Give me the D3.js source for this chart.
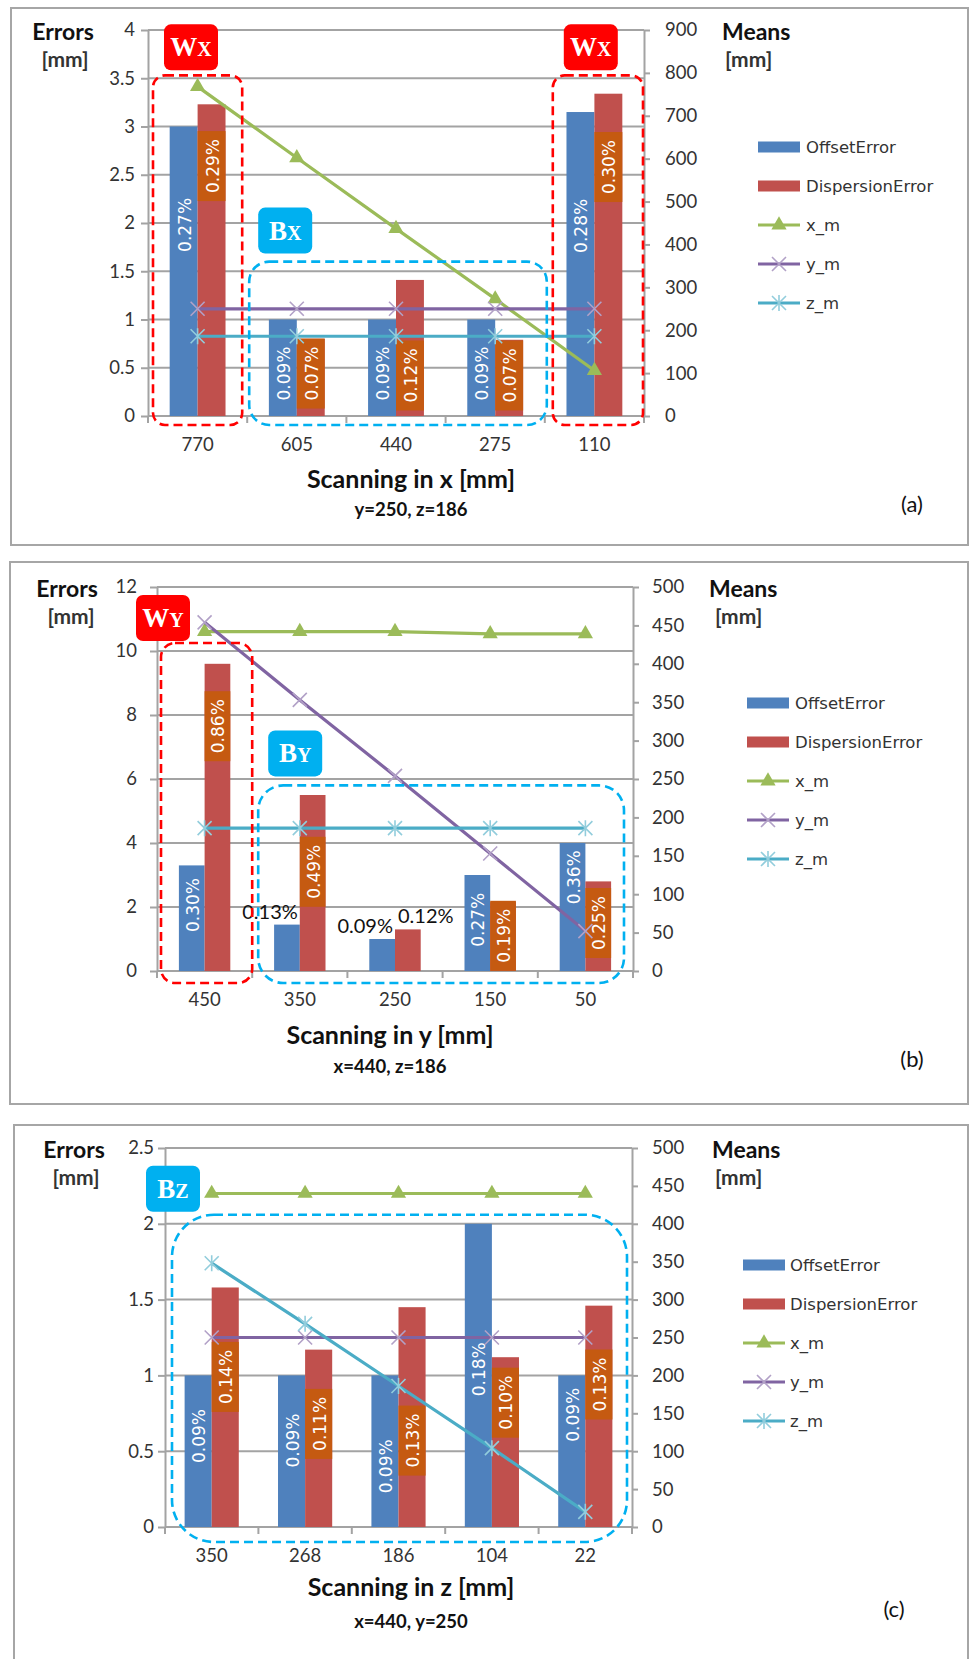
<!DOCTYPE html>
<html><head><meta charset="utf-8">
<script src="https://cdn.jsdelivr.net/npm/d3@7"></script>
<style>body{margin:0;background:#fff}svg{display:block}</style>
</head><body>
<svg id="chart" width="970" height="1659"></svg>
<script>
// ---- (a) scanning along x, y=250, z=186 ----
const catsA = ["770", "605", "440", "275", "110"];
const offsetA = [3.0, 1.0, 1.0, 1.0, 3.15];
const dispA = [3.23, 0.8, 1.41, 0.79, 3.34];
const offsetPctA = ["0.27%", "0.09%", "0.09%", "0.09%", "0.28%"];
const dispPctA = ["0.29%", "0.07%", "0.12%", "0.07%", "0.30%"];
const xmA = [768, 602, 437, 273, 106];
const ymA = [250, 250, 250, 250, 250];
const zmA = [186, 186, 186, 186, 186];
const errTicksA = [0, 0.5, 1, 1.5, 2, 2.5, 3, 3.5, 4];
const meanTicksA = [0, 100, 200, 300, 400, 500, 600, 700, 800, 900];

// ---- (b) scanning along y, x=440, z=186 ----
const catsB = ["450", "350", "250", "150", "50"];
const offsetB = [3.3, 1.45, 1.0, 3.0, 4.0];
const dispB = [9.6, 5.5, 1.3, 2.15, 2.8];
const offsetPctB = ["0.30%", "0.13%", "0.09%", "0.27%", "0.36%"];
const dispPctB = ["0.86%", "0.49%", "0.12%", "0.19%", "0.25%"];
const xmB = [442, 442, 442, 439, 439];
const ymB = [454, 353, 254, 153, 52];
const zmB = [186, 186, 186, 186, 186];
const errTicksB = [0, 2, 4, 6, 8, 10, 12];
const meanTicksB = [0, 50, 100, 150, 200, 250, 300, 350, 400, 450, 500];

// ---- (c) scanning along z, x=440, y=250 ----
const catsC = ["350", "268", "186", "104", "22"];
const offsetC = [1.0, 1.0, 1.0, 2.0, 1.0];
const dispC = [1.58, 1.17, 1.45, 1.12, 1.46];
const offsetPctC = ["0.09%", "0.09%", "0.09%", "0.18%", "0.09%"];
const dispPctC = ["0.14%", "0.11%", "0.13%", "0.10%", "0.13%"];
const xmC = [440, 440, 440, 440, 440];
const ymC = [250, 250, 250, 250, 250];
const zmC = [348, 268, 186, 104, 20];
const errTicksC = [0, 0.5, 1, 1.5, 2, 2.5];
const meanTicksC = [0, 50, 100, 150, 200, 250, 300, 350, 400, 450, 500];

const seriesNames = ["OffsetError", "DispersionError", "x_m", "y_m", "z_m"];

const COL = {
  offset: "#4f81bd", disp: "#c0504d", xm: "#9bbb59", ym: "#8064a2", zm: "#4bacc6",
  ymMark: "#b2a1c7", zmMark: "#92cddc", tag: "#c55a11", grid: "#a3a3a3",
  red: "#ff0000", cyan: "#00b0f0"
};
const F_AX = "Lato, 'Open Sans', sans-serif";
const F_LAB = "'DejaVu Sans', Verdana, sans-serif";
const F_SERIF = "'Liberation Serif', 'DejaVu Serif', serif";

const svg = d3.select("#chart");

// Label anchors (in error-axis units) for the rotated in-bar labels; null = horizontal label above the bar
const panels = [
  {
    cats: catsA, offset: offsetA, disp: dispA, offsetPct: offsetPctA, dispPct: dispPctA,
    xm: xmA, ym: ymA, zm: zmA, errTicks: errTicksA, meanTicks: meanTicksA,
    offsetAt: [1.98, 0.44, 0.44, 0.44, 1.97], dispAt: [2.59, 0.44, 0.42, 0.42, 2.58],
    frame: [11, 8, 957, 537], plot: { l: 148, r: 644, t: 30, b: 416 }, gap: 0.437,
    leftPad: 6, rightPad: 15,
    errLbl: [63, 65], meansLbl: [722, 725],
    legend: { x: 758, y: 147, text: 806 },
    title: ["Scanning in x [mm]", "y=250, z=186"], titlePos: [411, 478, 509], tag: ["(a)", 912, 503],
    boxes: [
      { from: 0, to: 0, padL: 5, padR: 5, top: 3.53, bot: 9, r: 12, color: COL.red, badge: ["W", "X", 11, -51] },
      { from: 4, to: 4, padL: 8, padR: 1, top: 3.53, bot: 9, r: 12, color: COL.red, badge: ["W", "X", 11, -51] },
      { from: 1, to: 3, padL: 2, padR: -2, top: 1.6, bot: 9, r: 20, color: COL.cyan, badge: ["B", "X", 9, -54] }
    ]
  },
  {
    cats: catsB, offset: offsetB, disp: dispB, offsetPct: offsetPctB, dispPct: dispPctB,
    xm: xmB, ym: ymB, zm: zmB, errTicks: errTicksB, meanTicks: meanTicksB,
    offsetAt: [2.06, null, null, 1.6, 2.93], dispAt: [7.65, 3.1, null, 1.1, 1.5],
    frame: [10, 562, 958, 542], plot: { l: 157, r: 633, t: 587, b: 971 }, gap: 0.46,
    leftPad: 13, rightPad: 13,
    errLbl: [67, 71], meansLbl: [709, 715],
    legend: { x: 747, y: 703, text: 795 },
    title: ["Scanning in y [mm]", "x=440, z=186"], titlePos: [390, 1034, 1066], tag: ["(b)", 912, 1058],
    boxes: [
      { from: 0, to: 0, padL: 4, padR: 0, top: 10.25, bot: 12, r: 14, color: COL.red, badge: ["W", "Y", -25, -48] },
      { from: 1, to: 4, padL: 6, padR: 9, top: 5.8, bot: 12, r: 25, color: COL.cyan, badge: ["B", "Y", 10, -55] }
    ]
  },
  {
    cats: catsC, offset: offsetC, disp: dispC, offsetPct: offsetPctC, dispPct: dispPctC,
    xm: xmC, ym: ymC, zm: zmC, errTicks: errTicksC, meanTicks: meanTicksC,
    offsetAt: [0.6, 0.57, 0.4, 1.04, 0.74], dispAt: [0.99, 0.68, 0.57, 0.82, 0.94],
    frame: [14, 1125, 954, 560], plot: { l: 165, r: 632, t: 1148, b: 1527 }, gap: 0.42,
    leftPad: 4, rightPad: 14,
    errLbl: [74, 76], meansLbl: [712, 715],
    legend: { x: 743, y: 1265, text: 790 },
    title: ["Scanning in z [mm]", "x=440, y=250"], titlePos: [411, 1586, 1621], tag: ["(c)", 894, 1608],
    boxes: [
      { from: 0, to: 4, padL: 7, padR: 5, top: 2.06, bot: 15, r: 42, color: COL.cyan, badge: ["B", "Z", -26, -49] }
    ]
  }
];

function markerX(sel, cx, cy, h, color) {
  sel.append("path")
    .attr("d", `M${cx - h},${cy - h}L${cx + h},${cy + h}M${cx - h},${cy + h}L${cx + h},${cy - h}`)
    .attr("stroke", color).attr("stroke-width", 1.6).attr("fill", "none");
}
function markerStar(sel, cx, cy, h, color) {
  sel.append("path")
    .attr("d", `M${cx - h},${cy - h}L${cx + h},${cy + h}M${cx - h},${cy + h}L${cx + h},${cy - h}M${cx},${cy - h - 1}L${cx},${cy + h + 1}`)
    .attr("stroke", color).attr("stroke-width", 1.6).attr("fill", "none");
}
const tri = d3.symbol().type(d3.symbolTriangle).size(100);

function drawPanel(p) {
  const g = svg.append("g");
  const [fx, fy, fw, fh] = p.frame;
  g.append("rect").attr("x", fx).attr("y", fy).attr("width", fw).attr("height", fh)
    .attr("fill", "#fff").attr("stroke", "#a6a6a6").attr("stroke-width", 2);

  const x0 = d3.scaleBand().domain(p.cats).range([p.plot.l, p.plot.r])
    .paddingInner(p.gap).paddingOuter(p.gap / 2);
  const x1 = d3.scaleBand().domain(["offset", "disp"]).range([0, x0.bandwidth()]);
  const yE = d3.scaleLinear().domain([0, d3.max(p.errTicks)]).range([p.plot.b, p.plot.t]);
  const yM = d3.scaleLinear().domain([0, d3.max(p.meanTicks)]).range([p.plot.b, p.plot.t]);
  const step = x0.step();
  const cx = c => x0(c) + x0.bandwidth() / 2;

  // horizontal gridlines
  g.append("g").selectAll("line").data(p.errTicks).join("line")
    .attr("x1", p.plot.l).attr("x2", p.plot.r)
    .attr("y1", d => yE(d)).attr("y2", d => yE(d))
    .attr("stroke", COL.grid).attr("stroke-width", 2);

  // left axis
  const axL = g.append("g").attr("transform", `translate(${p.plot.l},0)`)
    .call(d3.axisLeft(yE).tickValues(p.errTicks).tickFormat(d => String(d))
      .tickSize(7).tickSizeOuter(0).tickPadding(p.leftPad));
  // right axis
  const axR = g.append("g").attr("transform", `translate(${p.plot.r},0)`)
    .call(d3.axisRight(yM).tickValues(p.meanTicks).tickFormat(d => String(d))
      .tickSize(6).tickSizeOuter(0).tickPadding(p.rightPad));
  [axL, axR].forEach(a => {
    a.select(".domain").attr("stroke", COL.grid).attr("stroke-width", 2);
    a.selectAll(".tick line").attr("stroke", COL.grid).attr("stroke-width", 2);
    a.selectAll(".tick text").attr("font-family", F_AX).attr("font-size", 18.5).attr("fill", "#333");
  });

  // category axis ticks and labels
  const bounds = d3.range(p.cats.length + 1).map(i => p.plot.l + i * step);
  g.append("g").selectAll("line").data(bounds).join("line")
    .attr("x1", d => d).attr("x2", d => d).attr("y1", p.plot.b).attr("y2", p.plot.b + 7)
    .attr("stroke", COL.grid).attr("stroke-width", 2);
  g.append("g").selectAll("text").data(p.cats).join("text")
    .attr("x", d => cx(d)).attr("y", p.plot.b + 28).attr("text-anchor", "middle")
    .attr("dominant-baseline", "central").attr("font-family", F_AX).attr("font-size", 18.5)
    .attr("fill", "#333").text(d => d);

  // bars
  const rows = p.cats.map((c, i) => ({
    c, i, offset: p.offset[i], disp: p.disp[i],
    op: p.offsetPct[i], dp: p.dispPct[i], oAt: p.offsetAt[i], dAt: p.dispAt[i]
  }));
  g.append("g").selectAll("rect").data(rows).join("rect")
    .attr("x", d => x0(d.c) + x1("offset")).attr("width", x1.bandwidth())
    .attr("y", d => yE(d.offset)).attr("height", d => yE(0) - yE(d.offset))
    .attr("fill", COL.offset);
  g.append("g").selectAll("rect").data(rows).join("rect")
    .attr("x", d => x0(d.c) + x1("disp")).attr("width", x1.bandwidth())
    .attr("y", d => yE(d.disp)).attr("height", d => yE(0) - yE(d.disp))
    .attr("fill", COL.disp);

  // data labels
  const lab = g.append("g");
  rows.forEach(d => {
    const bw = x1.bandwidth();
    const ox = x0(d.c) + x1("offset"), dx = x0(d.c) + x1("disp");
    if (d.oAt !== null) {
      lab.append("text").attr("transform", `translate(${ox + bw / 2 + 1},${yE(d.oAt)}) rotate(-90)`)
        .attr("text-anchor", "middle").attr("dominant-baseline", "central")
        .attr("font-family", F_LAB).attr("font-size", 17).attr("fill", "#fff").text(d.op);
    } else {
      lab.append("text").attr("x", ox + bw - 2).attr("y", yE(d.offset) - 14)
        .attr("text-anchor", "end").attr("dominant-baseline", "central")
        .attr("font-family", F_AX).attr("font-size", 20).attr("fill", "#111").text(d.op);
    }
    if (d.dAt !== null) {
      const t = lab.append("g").attr("transform", `translate(${dx + bw / 2},${yE(d.dAt)})`);
      t.append("rect").attr("x", -bw / 2).attr("width", bw).attr("y", -35).attr("height", 70)
        .attr("fill", COL.tag);
      t.append("text").attr("transform", "translate(1,0) rotate(-90)")
        .attr("text-anchor", "middle").attr("dominant-baseline", "central")
        .attr("font-family", F_LAB).attr("font-size", 17).attr("fill", "#fff").text(d.dp);
    } else {
      lab.append("text").attr("x", dx + 3).attr("y", yE(d.disp) - 14)
        .attr("text-anchor", "start").attr("dominant-baseline", "central")
        .attr("font-family", F_AX).attr("font-size", 20).attr("fill", "#111").text(d.dp);
    }
  });

  // mean lines
  const lines = [
    { key: "xm", vals: p.xm, color: COL.xm },
    { key: "ym", vals: p.ym, color: COL.ym },
    { key: "zm", vals: p.zm, color: COL.zm }
  ];
  const lineGen = d3.line().x(d => cx(d.c)).y(d => yM(d.v));
  lines.forEach(L => {
    const pts = p.cats.map((c, i) => ({ c, v: L.vals[i] }));
    g.append("path").datum(pts).attr("d", lineGen).attr("fill", "none")
      .attr("stroke", L.color).attr("stroke-width", 3.2);
    const mg = g.append("g");
    pts.forEach(pt => {
      const X = cx(pt.c), Y = yM(pt.v);
      if (L.key === "xm") mg.append("path").attr("d", tri).attr("transform", `translate(${X},${Y})`).attr("fill", COL.xm);
      else if (L.key === "ym") markerX(mg, X, Y, 7, COL.ymMark);
      else markerStar(mg, X, Y, 7, COL.zmMark);
    });
  });

  // dashed group outlines and their tags
  p.boxes.forEach(b => {
    const x = p.plot.l + b.from * step + b.padL;
    const x2 = p.plot.l + (b.to + 1) * step - b.padR;
    const y = yE(b.top), y2 = p.plot.b + b.bot;
    g.append("rect").attr("x", x).attr("y", y).attr("width", x2 - x).attr("height", y2 - y)
      .attr("rx", b.r).attr("ry", b.r).attr("fill", "none")
      .attr("stroke", b.color).attr("stroke-width", 2.6).attr("stroke-dasharray", "9,5");
    const bx = x + b.badge[2], by = y + b.badge[3];
    g.append("rect").attr("x", bx).attr("y", by).attr("width", 54).attr("height", 46)
      .attr("rx", 7).attr("fill", b.color);
    const t = g.append("text").attr("x", bx + 27).attr("y", by + 32).attr("text-anchor", "middle")
      .attr("font-family", F_SERIF).attr("font-weight", "bold").attr("fill", "#fff");
    t.append("tspan").attr("font-size", 27).text(b.badge[0]);
    t.append("tspan").attr("font-size", 20).text(b.badge[1]);
  });

  // axis titles
  g.append("text").attr("x", p.errLbl[0]).attr("y", p.plot.t + 10).attr("text-anchor", "middle")
    .attr("font-family", F_AX).attr("font-weight", "bold").attr("font-size", 23).attr("fill", "#111").text("Errors");
  g.append("text").attr("x", p.errLbl[1]).attr("y", p.plot.t + 37).attr("text-anchor", "middle")
    .attr("font-family", F_AX).attr("font-weight", "bold").attr("font-size", 21).attr("fill", "#333").text("[mm]");
  g.append("text").attr("x", p.meansLbl[0]).attr("y", p.plot.t + 10)
    .attr("font-family", F_AX).attr("font-weight", "bold").attr("font-size", 23).attr("fill", "#111").text("Means");
  g.append("text").attr("x", p.meansLbl[1]).attr("y", p.plot.t + 37)
    .attr("font-family", F_AX).attr("font-weight", "bold").attr("font-size", 21).attr("fill", "#333").text("[mm]");

  g.append("text").attr("x", p.titlePos[0]).attr("y", p.titlePos[1]).attr("text-anchor", "middle")
    .attr("dominant-baseline", "central").attr("font-family", F_AX).attr("font-weight", "bold")
    .attr("font-size", 25).attr("fill", "#111").text(p.title[0]);
  g.append("text").attr("x", p.titlePos[0]).attr("y", p.titlePos[2]).attr("text-anchor", "middle")
    .attr("dominant-baseline", "central").attr("font-family", F_AX).attr("font-weight", "bold")
    .attr("font-size", 18.5).attr("fill", "#111").text(p.title[1]);
  g.append("text").attr("x", p.tag[1]).attr("y", p.tag[2]).attr("text-anchor", "middle")
    .attr("dominant-baseline", "central").attr("font-family", F_AX).attr("font-size", 22)
    .attr("fill", "#111").text(p.tag[0]);

  // legend
  const lg = g.append("g");
  seriesNames.forEach((name, i) => {
    const y = p.legend.y + i * 39, x = p.legend.x, w = 42;
    if (i < 2) {
      lg.append("rect").attr("x", x).attr("y", y - 5.5).attr("width", w).attr("height", 11)
        .attr("fill", i === 0 ? COL.offset : COL.disp);
    } else {
      const col = [COL.xm, COL.ym, COL.zm][i - 2];
      lg.append("line").attr("x1", x).attr("x2", x + w).attr("y1", y).attr("y2", y)
        .attr("stroke", col).attr("stroke-width", 3.2);
      const mx = x + w / 2;
      if (i === 2) lg.append("path").attr("d", tri).attr("transform", `translate(${mx},${y})`).attr("fill", COL.xm);
      else if (i === 3) markerX(lg, mx, y, 7, COL.ymMark);
      else markerStar(lg, mx, y, 7, COL.zmMark);
    }
    lg.append("text").attr("x", p.legend.text).attr("y", y).attr("dominant-baseline", "central")
      .attr("font-family", F_LAB).attr("font-size", 16.5).attr("fill", "#333").text(name);
  });
}

panels.forEach(drawPanel);
</script>
</body></html>
